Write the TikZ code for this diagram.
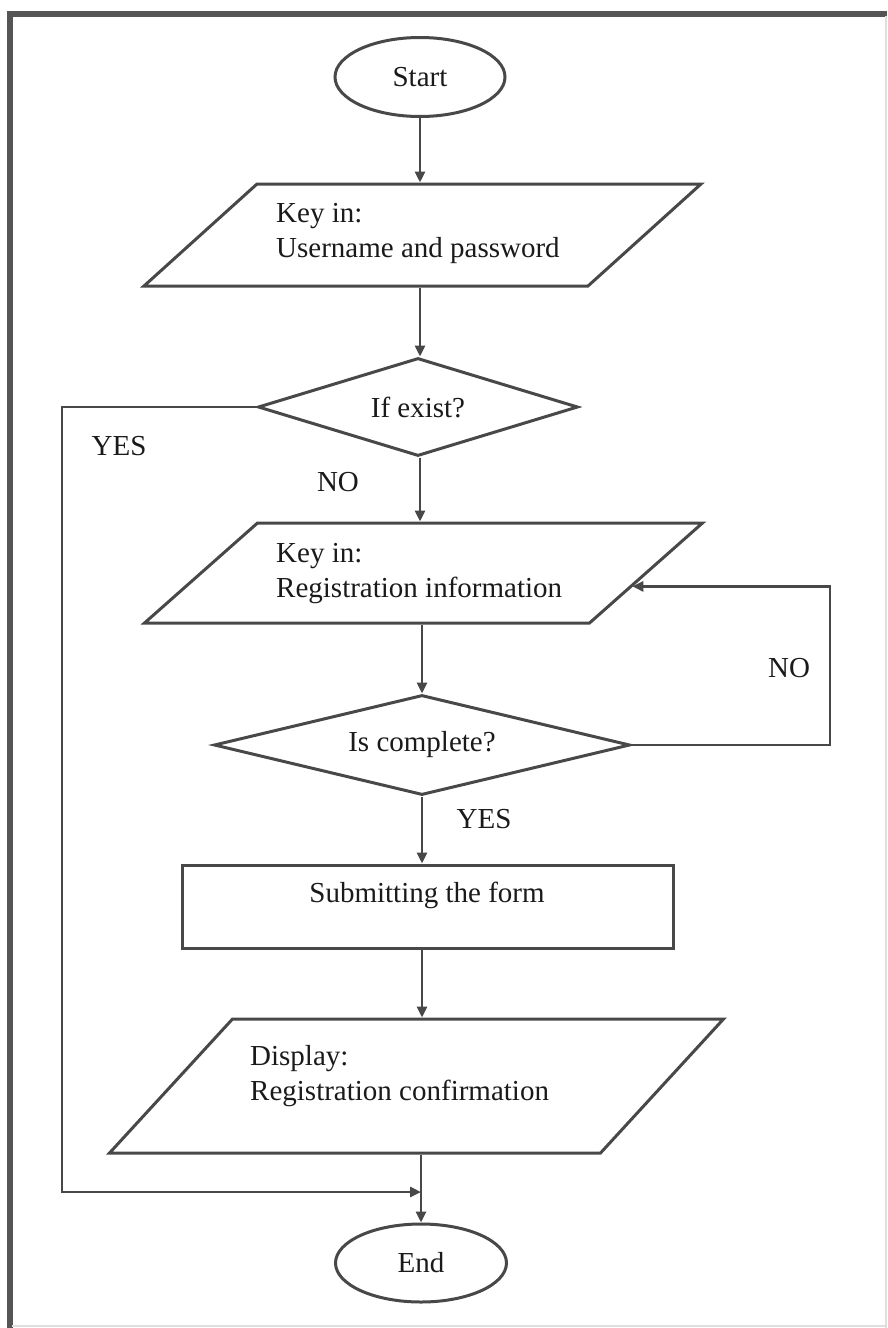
\documentclass[tikz,border=0pt]{standalone}
\usepackage{fontspec}
\setmainfont{Liberation Serif}
\usetikzlibrary{shapes.geometric,arrows.meta,calc}

\definecolor{linegray}{HTML}{484848}
\definecolor{framegray}{HTML}{555555}
\definecolor{inkcol}{HTML}{1A1A1A}

\tikzset{
  txt/.style={font=\fontsize{29}{35}\selectfont, text=inkcol, inner sep=0pt},
  terminal/.style={ellipse, draw=linegray, line width=3pt, inner sep=0pt, txt},
  iobox/.style={draw=linegray, line width=3pt, rectangle, inner sep=0pt},
  decision/.style={diamond, draw=linegray, line width=3pt, inner sep=0pt, txt},
  process/.style={draw=linegray, line width=3pt, rectangle, inner sep=0pt},
  flow/.style={draw=linegray, line width=2.8pt, -{Triangle[length=11pt,width=10pt]}},
}

\begin{document}
\begin{tikzpicture}[x=1pt, y=-1pt]
  \useasboundingbox (0,0) rectangle (887,1328);

  % page frame
  \draw[framegray, line width=6pt] (6.5,13.5) -- (887,13.5);
  \draw[framegray, line width=6pt] (9.5,10.5) -- (9.5,1328);
  \draw[gray!25, line width=2pt] (885.5,16) -- (885.5,1328);
  \draw[gray!25, line width=2pt] (12,1326) -- (887,1326);

  % nodes
  \node[terminal, minimum width=170pt, minimum height=79pt] (s) at (420,77) {Start};
  \node[iobox, minimum width=444pt, minimum height=102pt, xslant=1.108] (p1) at (422.5,235) {};
  \node[decision, aspect=3.27, minimum width=320pt, minimum height=98pt] (d1) at (418,407) {If exist?};
  \node[iobox, minimum width=445pt, minimum height=100pt, xslant=1.13] (p2) at (423.5,573) {};
  \node[decision, aspect=4.16, minimum width=416pt, minimum height=100pt] (d2) at (422,745) {Is complete?};
  \node[process, minimum width=491pt, minimum height=83pt] (r) at (427.5,906.5) {};
  \node[iobox, minimum width=491pt, minimum height=134pt, xslant=0.918] (p3) at (416.5,1086) {};
  \node[terminal, minimum width=171pt, minimum height=78pt] (e) at (421,1263) {End};

  % texts of the boxes
  \node[txt, anchor=base west] (p1a) at (276,222) {Key in:};
  \node[txt, anchor=base west] (p1b) at (276,257) {Username and password};
  \node[txt, anchor=base west] (p2a) at (276,562) {Key in:};
  \node[txt, anchor=base west] (p2b) at (276,597) {Registration information};
  \node[txt] (rt) at (427,895) {Submitting the form};
  \node[txt, anchor=base west] (p3a) at (250,1065) {Display:};
  \node[txt, anchor=base west] (p3b) at (250,1100) {Registration confirmation};

  % branch labels
  \node[txt] (yes1) at (119,446) {YES};
  \node[txt] (no1) at (338,482) {NO};
  \node[txt] (no2) at (789,668) {NO};
  \node[txt] (yes2) at (484,819) {YES};

  % helper points
  \coordinate (j) at (421,1192);
  \coordinate (nr) at (830,0);
  \coordinate (pin) at ($(p2.north east)!0.63!(p2.south east)$);

  % main flow
  \draw[flow] (s.south) -- (s.south |- p1.north);
  \draw[flow] (s.south |- p1.south) -- (s.south |- d1.north);
  \draw[flow] (s.south |- d1.south) -- (s.south |- p2.north);
  \draw[flow] (d2.north |- p2.south) -- (d2.north);
  \draw[flow] (d2.south) -- (d2.south |- r.north);
  \draw[flow] (d2.south |- r.south) -- (d2.south |- p3.north);
  \draw[flow] (e.north |- p3.south) -- (e.north);

  % YES branch of the first decision
  \draw[flow] (d1.west) -| (62,1192) -- (j);

  % NO loop of the second decision
  \draw[flow] (d2.east) -| (pin -| nr) -- (pin);
\end{tikzpicture}
\end{document}
